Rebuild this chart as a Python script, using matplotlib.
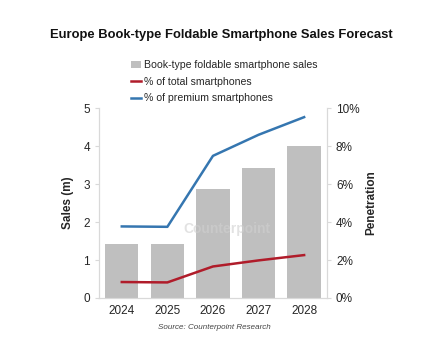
import matplotlib
matplotlib.use("Agg")
import matplotlib.pyplot as plt
from matplotlib.ticker import FuncFormatter

plt.rcParams['font.family'] = ['Liberation Sans', 'DejaVu Sans']

years = ["2024", "2025", "2026", "2027", "2028"]
sales = [1.43, 1.41, 2.86, 3.43, 4.0]
pct_total = [0.84, 0.82, 1.66, 1.98, 2.26]
pct_premium = [3.77, 3.75, 7.49, 8.6, 9.53]

bar_color = "#bfbfbf"
red = "#b01c2a"
blue = "#3576b0"
spine_color = "#d9d9d9"
text_color = "#262626"

fig = plt.figure(figsize=(4.4, 3.56), dpi=100)
ax = fig.add_axes([0.225, 0.163, 0.518, 0.533])
x = list(range(len(years)))
bars = ax.bar(x, sales, width=0.73, color=bar_color, label="Book-type foldable smartphone sales", zorder=2)
ax.set_ylim(0, 5)
ax.set_xlim(-0.5, 4.5)
ax.set_yticks([0, 1, 2, 3, 4, 5])
ax.set_xticks(x)
ax.set_xticklabels(years)

ax2 = ax.twinx()
l1, = ax2.plot(x, pct_total, color=red, lw=1.8, label="% of total smartphones", zorder=3)
l2, = ax2.plot(x, pct_premium, color=blue, lw=1.8, label="% of premium smartphones", zorder=3)
ax2.set_ylim(0, 10)
ax2.set_yticks([0, 2, 4, 6, 8, 10])
ax2.yaxis.set_major_formatter(FuncFormatter(lambda v, p: f"{int(v)}%"))

for a in (ax, ax2):
    a.spines['top'].set_visible(False)
    for s in ('left', 'right', 'bottom'):
        a.spines[s].set_color(spine_color)
        a.spines[s].set_linewidth(0.8)
    a.tick_params(axis='y', colors=spine_color, labelcolor=text_color, labelsize=8.5, length=3, width=0.8)
    a.tick_params(axis='x', length=0, labelcolor=text_color, labelsize=8.5, pad=5)

ax.set_ylabel("Sales (m)", fontsize=8.5, fontweight='bold', color=text_color, labelpad=7)
ax2.set_ylabel("Penetration", fontsize=8.5, fontweight='bold', color=text_color, labelpad=4)

fig.text(0.503, 0.902, "Europe Book-type Foldable Smartphone Sales Forecast",
         ha='center', va='center', fontsize=9.4, fontweight='bold', color='#111111')

fig.legend(handles=[bars, l1, l2], loc='upper left', bbox_to_anchor=(0.288, 0.843),
           frameon=False, fontsize=7.6, handlelength=1.0, handletextpad=0.2,
           labelspacing=0.62, borderaxespad=0, labelcolor=text_color)

fig.text(0.488, 0.081, "Source: Counterpoint Research", ha='center', va='center',
         fontsize=5.8, style='italic', color='#444444')

fig.text(0.515, 0.357, "Counterpoint", ha='center', va='center', fontsize=10,
         fontweight='bold', color='#d0d0d0', alpha=0.6, zorder=5)

fig.savefig("out.png", dpi=100, facecolor='white')
